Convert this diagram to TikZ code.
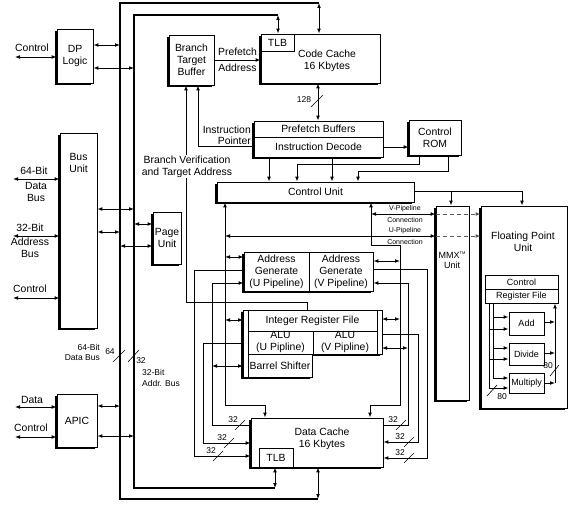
\documentclass[tikz,border=0pt]{standalone}
\usepackage{fontspec}
\setmainfont{Liberation Sans}
\usetikzlibrary{arrows.meta,shadows}
\begin{document}
\begin{tikzpicture}[x=1pt,y=-1pt,
  font=\fontsize{10.4}{12}\selectfont,
  every node/.style={inner sep=0pt, align=center},
  cell/.style={draw, line width=0.8pt, fill=white},
  blk/.style={cell, general shadow={fill=black, shadow xshift=-1.8pt, shadow yshift=-1.8pt}},
  ln/.style={line width=0.9pt},
  ar/.style={ln, -{Latex[length=5pt,width=3.8pt]}},
  bi/.style={ln, {Latex[length=5pt,width=3.8pt]}-{Latex[length=5pt,width=3.8pt]}},
  bus/.style={line width=1.5pt},
  sm/.style={font=\fontsize{8.5}{9.5}\selectfont},
  smalltxt/.style={font=\fontsize{7}{8}\selectfont},
  fputxt/.style={font=\fontsize{9}{10}\selectfont},
  dsh/.style={line width=0.9pt, dash pattern=on 4pt off 3pt, gray!70!black, -{Latex[length=5pt,width=3.8pt]}},
  slash/.style={line width=0.6pt},
]
\useasboundingbox (0,0) rectangle (576,505);
\fill[white] (0,0) rectangle (576,505);

% ---------- buses ----------
\draw[bus] (318,499) -- (120,499) -- (120,3) -- (319,3);
\draw[bus] (275,488) -- (134,488) -- (134,15) -- (278,15);

% ---------- blocks ----------
\node[blk, minimum width=36pt, minimum height=54pt] (dp) at (75,56) {DP\\Logic};
\node[blk, minimum width=37pt, minimum height=195pt] (bu) at (78.5,230.5) {};
\node (butxt) at (78.5,163) {Bus\\Unit};
\node[blk, minimum width=40pt, minimum height=53pt] (apic) at (77,420.5) {APIC};
\node[blk, minimum width=28pt, minimum height=52pt] (pg) at (167,238) {Page\\Unit};
\node[blk, minimum width=45pt, minimum height=50pt] (btb) at (191.5,60) {Branch\\Target\\Buffer};
\node[blk, minimum width=119pt, minimum height=49pt] (cc) at (320.5,58.5) {};
\node (cctxt) at (327,61) {Code Cache\\16 Kbytes};
\node[cell, minimum width=33pt, minimum height=17pt] (cctlb) at (277.5,42.5) {TLB};
\node[blk, minimum width=129pt, minimum height=36pt] (pfid) at (318.5,139) {};
\node[cell, minimum width=129pt, minimum height=16pt] (pf) at (318.5,129) {Prefetch Buffers};
\node[cell, minimum width=129pt, minimum height=20pt] (id) at (318.5,147) {Instruction Decode};
\node[blk, minimum width=52pt, minimum height=35pt] (rom) at (435,137.5) {Control\\ROM};
\node[blk, minimum width=197pt, minimum height=20pt] (cu) at (315.5,192) {Control Unit};

% address generate
\node[blk, minimum width=129pt, minimum height=39pt] (ag) at (308.5,271.5) {};
\node[cell, minimum width=65pt, minimum height=39pt] (agu) at (276.5,271.5) {Address\\Generate\\(U Pipeline)};
\node[cell, minimum width=64pt, minimum height=39pt] (agv) at (341,271.5) {Address\\Generate\\(V Pipeline)};

% integer unit
\path[blk] (243,310) -- (382,310) -- (382,354) -- (312,354) -- (312,377) -- (243,377) -- cycle;
\node[cell, minimum width=129pt, minimum height=21pt] (irf) at (312.5,320.5) {Integer Register File};
\node[cell, minimum width=65pt, minimum height=23pt] (aluu) at (280.5,342.5) {ALU\\(U Pipline)};
\node[cell, minimum width=64pt, minimum height=23pt] (aluv) at (345,342.5) {ALU\\(V Pipline)};
\node[cell, minimum width=64pt, minimum height=23pt] (bs) at (280,365.5) {Barrel Shifter};

% data cache
\node[blk, minimum width=132pt, minimum height=49pt] (dc) at (317,442.5) {};
\node (dctxt) at (322,439) {Data Cache\\16 Kbytes};
\node[cell, minimum width=34pt, minimum height=19pt] (dctlb) at (276,457.5) {TLB};

% MMX and FPU
\node[blk, minimum width=33pt, minimum height=194pt] (mmx) at (452.5,303) {};
\node[fputxt] (mmxtxt) at (452,260) {MMX\raisebox{3.5pt}{\fontsize{4}{4}\selectfont TM}\\Unit};
\node[blk, minimum width=86pt, minimum height=202pt] (fpu) at (524,307) {};
\node (fputxt) at (523,242) {Floating Point\\Unit};
\node[cell, fputxt, minimum width=73pt, minimum height=14pt] (fctl) at (521.5,282) {Control};
\node[cell, fputxt, minimum width=73pt, minimum height=14pt] (rf) at (521.5,296) {Register File};
\node[cell, fputxt, minimum width=35pt, minimum height=23pt] (add) at (526.5,323.5) {Add};
\node[cell, fputxt, minimum width=35pt, minimum height=22pt] (div) at (526.5,354) {Divide};
\node[cell, fputxt, minimum width=35pt, minimum height=20pt] (mul) at (526.5,383) {Multiply};

% ---------- external signals ----------
\node (lctl1) at (32,48) {Control};
\draw[bi] (15,57) -- (dp.west |- 0,57);
\node (l64a) at (34,171) {64-Bit};
\node (l64b) at (36,191.5) {Data\\Bus};
\draw[bi] (13,179) -- (bu.west |- 0,179);
\node (l32a) at (30,228) {32-Bit};
\node (l32b) at (30,247.5) {Address\\Bus};
\draw[bi] (13,236) -- (bu.west |- 0,236);
\node (lctl2) at (30,289) {Control};
\draw[bi] (13,298) -- (bu.west |- 0,298);
\node (ldata) at (32,400) {Data};
\draw[bi] (15,407) -- (apic.west |- 0,407);
\node (lctl3) at (31,428) {Control};
\draw[bi] (15,437) -- (apic.west |- 0,437);

% ---------- bus taps ----------
\draw[bi] (dp.east |- 0,45) -- (120,45);
\draw[bi] (dp.east |- 0,68) -- (134,68);
\draw[bi] (bu.east |- 0,209) -- (134,209);
\draw[bi] (bu.east |- 0,232) -- (120,232);
\draw[bi] (134,224) -- (pg.west |- 0,224);
\draw[bi] (120,246) -- (pg.west |- 0,246);
\draw[bi] (apic.east |- 0,406) -- (120,406);
\draw[bi] (apic.east |- 0,436) -- (134,436);
\draw[bi] (319,3) -- (cc.north -| 319,0);
\draw[bi] (278,15) -- (cctlb.north -| 278,0);
\draw[bi] (318,499) -- (dc.south -| 318,0);
\draw[bi] (275,488) -- (dctlb.south -| 275,0);

% bus width labels
\node[sm, anchor=east] (l64c) at (100,347) {64-Bit};
\node[sm, anchor=east] (l64d) at (100,358) {Data Bus};
\node[sm] (l64e) at (110,352) {64};
\draw[slash] (113,362) -- (125,350);
\draw[slash] (128,362) -- (139,350);
\node[sm] (l32c) at (141,361) {32};
\node[sm, anchor=west] (l32d) at (142,372) {32-Bit};
\node[sm, anchor=west] (l32e) at (142,383) {Addr. Bus};

% ---------- front end ----------
\draw[ar] (btb.east |- 0,60) -- (cc.west |- 0,60);
\node (lpf) at (237.5,52) {Prefetch};
\node (lpa) at (237.5,68) {Address};
\draw[bi] (cc.south -| 318,0) -- (pf.north -| 318,0);
\node[sm] (l128) at (304,100) {128};
\draw[slash] (311,107) -- (323,95);
\draw[ar] (id.east |- 0,147) -- (rom.west |- 0,147);
\draw[ar] (id.west |- 0,146) -- (198,146) -- (btb.south -| 198,0);
\node[anchor=east] (lip1) at (251,130) {Instruction};
\node[anchor=east] (lip2) at (251,141) {Pointer};
\draw[ar] (irf.north -| 307,0) -- (307,302) -- (186,302) -- (btb.south -| 186,0);
\node[fill=white, inner sep=1pt] (lbv) at (187,166.5) {Branch Verification\\and Target Address};

\draw[ar] (id.south -| 269,0) -- (cu.north -| 269,0);
\draw[ar] (id.south -| 332,0) -- (cu.north -| 332,0);
\draw[ar] (rom.south -| 419,0) -- (419,164) -- (297,164) -- (cu.north -| 297,0);
\draw[ar] (rom.south -| 448,0) -- (448,171) -- (358,171) -- (cu.north -| 358,0);
\draw[ar] (cu.east |- 0,191) -- (522,191) -- (fpu.north -| 522,0);
\draw[ar] (451,191) -- (mmx.north -| 451,0);

% ---------- pipeline connections ----------
\draw[bi] (371,214) -- (mmx.west |- 0,214);
\draw[dsh] (mmx.west |- 0,214) -- (fpu.west |- 0,214);
\draw[bi] (225,236) -- (mmx.west |- 0,236);
\draw[dsh] (mmx.west |- 0,236) -- (fpu.west |- 0,236);
\node[smalltxt] (lvp1) at (405,209) {V-Pipeline};
\node[smalltxt] (lvp2) at (405,220) {Connection};
\node[smalltxt] (lup1) at (405,230.5) {U-Pipeline};
\node[smalltxt] (lup2) at (405,241.5) {Connection};

% ---------- control unit to data cache ----------
\draw[ar] (225,405) -- (cu.south -| 225,0);
\draw[ar] (225,405) -- (265,405) -- (dc.north -| 265,0);
\draw[ar] (371,245) -- (cu.south -| 371,0);
\draw[ar] (371,245) -- (400,245) -- (400,405) -- (370,405) -- (dc.north -| 370,0);

% ---------- left side ----------
\draw[ar] (agu.west |- 0,270) -- (194,270) -- (194,456) -- (dc.west |- 0,456);
\draw[ar] (243,343) -- (203,343) -- (203,443) -- (dc.west |- 0,443);
\draw[ar] (dc.west |- 0,425) -- (212,425) -- (212,283) -- (agu.west |- 0,283);
\draw[bi] (212,366) -- (243,366);
\draw[bi] (225,257) -- (agu.west |- 0,257);
\draw[bi] (225,320) -- (243,320);

% ---------- right side ----------
\draw[ar] (agv.east |- 0,269) -- (427,269) -- (427,458) -- (dc.east |- 0,458);
\draw[ar] (382,334) -- (418,334) -- (418,442) -- (dc.east |- 0,442);
\draw[ar] (dc.east |- 0,425) -- (408,425) -- (408,283) -- (agv.east |- 0,283);
\draw[bi] (382,348) -- (408,348);
\draw[bi] (agv.east |- 0,261) -- (400,261);
\draw[bi] (382,319) -- (400,319);

% 32-bit labels at the data cache
\node[sm] at (233,420) {32};
\draw[slash] (235,430) -- (245,420);
\node[sm] at (222,438) {32};
\draw[slash] (224,448) -- (234,438);
\node[sm] at (211,451) {32};
\draw[slash] (213,461) -- (223,451);
\node[sm] at (393,420) {32};
\draw[slash] (396,430) -- (406,420);
\node[sm] at (400,437) {32};
\draw[slash] (404,447) -- (414,437);
\node[sm] at (400,453) {32};
\draw[slash] (404,463) -- (414,453);

% ---------- FPU internals ----------
\draw[ln] (rf.south -| 493,0) -- (493,378);
\draw[ln] (rf.south -| 489,0) -- (489,388);
\draw[ar] (493,317) -- (add.west |- 0,317);
\draw[ar] (489,329) -- (add.west |- 0,329);
\draw[ar] (493,348) -- (div.west |- 0,348);
\draw[ar] (489,359) -- (div.west |- 0,359);
\draw[ar] (493,378) -- (mul.west |- 0,378);
\draw[ar] (489,388) -- (mul.west |- 0,388);
\draw[ln] (555,322) -- (555,383);
\draw[ar] (555,322) -- (rf.south -| 555,0);
\draw[ar] (add.east |- 0,322) -- (555,322);
\draw[ar] (div.east |- 0,353) -- (555,353);
\draw[ar] (mul.east |- 0,383) -- (555,383);
\draw[slash] (487,396) -- (497,385);
\node[sm] at (502,397) {80};
\draw[slash] (550,376) -- (559,365);
\node[sm] at (548,366) {80};
\end{tikzpicture}
\end{document}
